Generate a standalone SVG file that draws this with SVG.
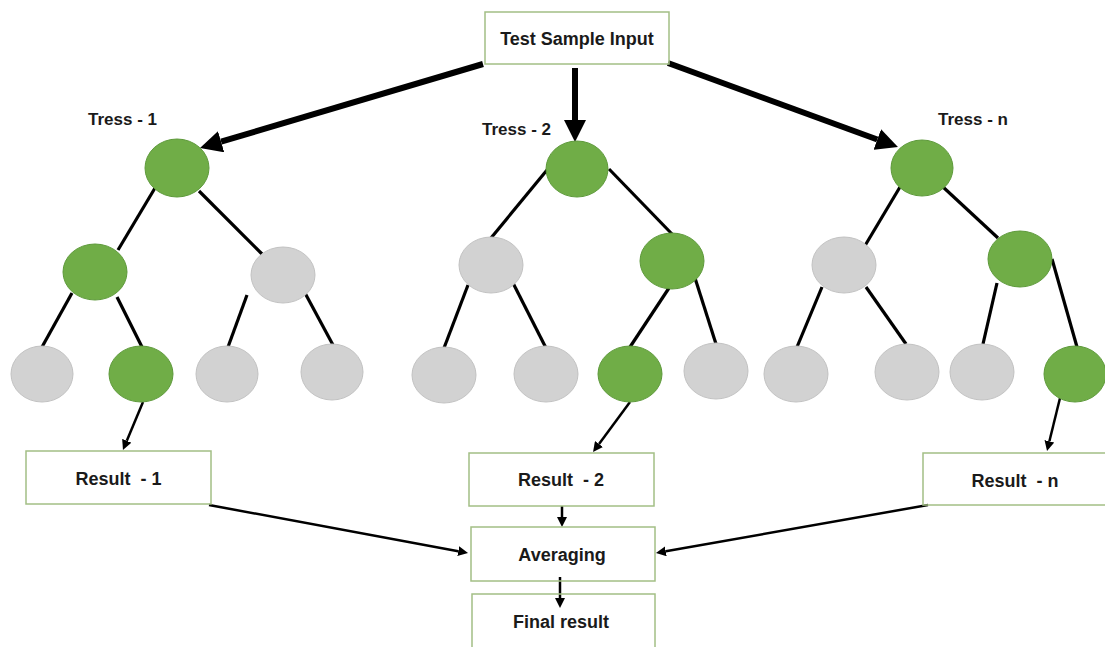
<svg xmlns="http://www.w3.org/2000/svg" width="1105" height="647" viewBox="0 0 1105 647">
  <style>
    .box { fill: none; stroke: #a3bf85; stroke-width: 1.5; }
    .lbl { font-family: "Liberation Sans", Arial, sans-serif; font-weight: bold; font-size: 18px; fill: #1a1a1a; text-anchor: middle; }
    .tl { font-family: "Liberation Sans", Arial, sans-serif; font-weight: bold; font-size: 17px; fill: #1a1a1a; }
    .on { fill: #70ad47; stroke: #5e9a3b; stroke-width: 1; }
    .off { fill: #d2d2d2; stroke: #c2c2c2; stroke-width: 1; }
    .edge { stroke: #000; stroke-width: 3.2; fill: none; }
    .big { stroke: #000; stroke-width: 6; fill: none; marker-end: url(#bigHead); }
    .thin { stroke: #000; stroke-width: 2.5; fill: none; marker-end: url(#thinHead); }
  </style>
  <defs>
    <marker id="bigHead" markerUnits="userSpaceOnUse" viewBox="0 -11 22 22" markerWidth="22" markerHeight="22" refX="0" refY="0" orient="auto">
      <path d="M0,-11 L22,0 L0,11 z" fill="#000"/>
    </marker>
    <marker id="thinHead" markerUnits="userSpaceOnUse" viewBox="0 -5 10 10" markerWidth="10" markerHeight="10" refX="0" refY="0" orient="auto">
      <path d="M0,-5 L10,0 L0,5 z" fill="#000"/>
    </marker>
  </defs>

  <rect width="1105" height="647" fill="#ffffff"/>

  <!-- connectors -->
  <g id="connectors">
    <!-- input to tree roots -->
    <line class="big" x1="483" y1="64" x2="221.1" y2="141.7"/>
    <line class="big" x1="575" y1="68" x2="575" y2="120"/>
    <line class="big" x1="668" y1="63" x2="877.3" y2="139.5"/>

    <!-- tree 1 branches -->
    <line class="edge" x1="155" y1="188" x2="118" y2="250"/>
    <line class="edge" x1="199" y1="191" x2="262" y2="254"/>
    <line class="edge" x1="72" y1="293" x2="42" y2="347"/>
    <line class="edge" x1="117" y1="297" x2="142" y2="347"/>
    <line class="edge" x1="247" y1="295" x2="228" y2="347"/>
    <line class="edge" x1="305" y1="293" x2="333" y2="345"/>

    <!-- tree 2 branches -->
    <line class="edge" x1="547" y1="170" x2="491" y2="238"/>
    <line class="edge" x1="609" y1="169" x2="672" y2="234"/>
    <line class="edge" x1="468" y1="285" x2="444" y2="348"/>
    <line class="edge" x1="513" y1="283" x2="546" y2="348"/>
    <line class="edge" x1="669" y1="288" x2="630" y2="347"/>
    <line class="edge" x1="695" y1="278" x2="716" y2="344"/>

    <!-- tree n branches -->
    <line class="edge" x1="900" y1="187" x2="863" y2="249"/>
    <line class="edge" x1="943" y1="187" x2="998" y2="238"/>
    <line class="edge" x1="822" y1="287" x2="797" y2="347"/>
    <line class="edge" x1="866" y1="287" x2="906" y2="344"/>
    <line class="edge" x1="997" y1="283" x2="983" y2="344"/>
    <line class="edge" x1="1052" y1="259" x2="1077" y2="347"/>

    <!-- leaves to results -->
    <line class="thin" x1="143" y1="402" x2="126.8" y2="440.8"/>
    <line class="thin" x1="630" y1="402" x2="599" y2="444"/>
    <line class="thin" x1="1060" y1="398" x2="1049.4" y2="441.3"/>

    <!-- results to averaging -->
    <line class="thin" x1="209" y1="505" x2="458.2" y2="551.2"/>
    <line class="thin" x1="562" y1="506" x2="562" y2="517"/>
    <line class="thin" x1="928" y1="505" x2="665.8" y2="551.3"/>

    <!-- averaging to final -->
    <line class="thin" x1="560" y1="577" x2="560" y2="598"/>
  </g>

  <!-- input -->
  <g id="input">
    <rect class="box" x="485" y="12" width="184" height="52"/>
    <text class="lbl" x="577" y="45">Test Sample Input</text>
  </g>

  <!-- tree labels -->
  <g id="tree-labels">
    <text class="tl" x="88" y="125">Tress - 1</text>
    <text class="tl" x="482" y="135">Tress - 2</text>
    <text class="tl" x="938" y="125">Tress - n</text>
  </g>

  <!-- tree 1 -->
  <g id="tree1">
    <ellipse class="on" cx="177" cy="168" rx="32" ry="29"/>
    <ellipse class="on" cx="95" cy="272" rx="32" ry="28"/>
    <ellipse class="off" cx="283" cy="275" rx="32" ry="28"/>
    <ellipse class="off" cx="42" cy="374" rx="31" ry="28"/>
    <ellipse class="on" cx="141" cy="374" rx="32" ry="28"/>
    <ellipse class="off" cx="227" cy="374" rx="31" ry="28"/>
    <ellipse class="off" cx="332" cy="372" rx="31" ry="28"/>
  </g>

  <!-- tree 2 -->
  <g id="tree2">
    <ellipse class="on" cx="577" cy="169" rx="31" ry="28"/>
    <ellipse class="off" cx="491" cy="265" rx="32" ry="28"/>
    <ellipse class="on" cx="672" cy="261" rx="32" ry="28"/>
    <ellipse class="off" cx="444" cy="375" rx="32" ry="28"/>
    <ellipse class="off" cx="546" cy="374" rx="32" ry="28"/>
    <ellipse class="on" cx="630" cy="374" rx="32" ry="28"/>
    <ellipse class="off" cx="716" cy="371" rx="32" ry="28"/>
  </g>

  <!-- tree n -->
  <g id="treeN">
    <ellipse class="on" cx="922" cy="168" rx="31" ry="28"/>
    <ellipse class="off" cx="844" cy="265" rx="32" ry="28"/>
    <ellipse class="on" cx="1020" cy="259" rx="32" ry="28"/>
    <ellipse class="off" cx="796" cy="374" rx="32" ry="28"/>
    <ellipse class="off" cx="907" cy="372" rx="32" ry="28"/>
    <ellipse class="off" cx="982" cy="372" rx="32" ry="28"/>
    <ellipse class="on" cx="1075" cy="374" rx="31" ry="28"/>
  </g>

  <!-- results -->
  <g id="result1">
    <rect class="box" x="26" y="451" width="185" height="53"/>
    <text class="lbl" x="118.5" y="485" xml:space="preserve">Result  - 1</text>
  </g>
  <g id="result2">
    <rect class="box" x="469" y="453" width="185" height="53"/>
    <text class="lbl" x="561" y="486" xml:space="preserve">Result  - 2</text>
  </g>
  <g id="resultN">
    <rect class="box" x="923" y="453" width="190" height="52"/>
    <text class="lbl" x="1015" y="487" xml:space="preserve">Result  - n</text>
  </g>

  <!-- averaging -->
  <g id="averaging">
    <rect class="box" x="471" y="527" width="184" height="54"/>
    <text class="lbl" x="562" y="561">Averaging</text>
  </g>

  <!-- final result -->
  <g id="final">
    <rect class="box" x="472" y="594" width="183" height="60"/>
    <text class="lbl" x="561" y="628">Final result</text>
  </g>
</svg>
